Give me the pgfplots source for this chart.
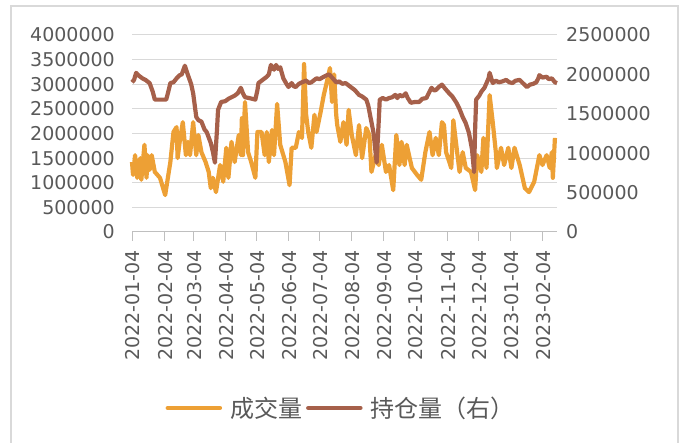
\documentclass[border=0pt]{standalone}
\usepackage{pgfplots}
\pgfplotsset{compat=1.18}
\usepackage{fontspec}
\setmainfont{DejaVu Sans}
\newfontfamily\cjk{Noto Sans CJK SC}
\definecolor{volc}{HTML}{EDA035}
\definecolor{oic}{HTML}{A6604A}
\definecolor{txtc}{HTML}{595959}
\definecolor{gridc}{HTML}{D9D9D9}
\definecolor{axc}{HTML}{BFBFBF}
\begin{document}
\begin{tikzpicture}[x=1pt,y=1pt]
\useasboundingbox (0,0) rectangle (682,443);
\draw[gridc, line width=1.2pt] (11,-2) -- (11,437) -- (678,437) -- (678,-2);
\begin{axis}[
  at={(132pt,211pt)}, anchor=south west,
  scale only axis, width=425pt, height=197pt,
  xmin=0, xmax=410, ymin=0, ymax=4000000,
  axis x line*=bottom, axis y line*=left,
  y axis line style={draw=none},
  x axis line style={draw=axc, line width=1pt},
  xtick={0,31,59,90,120,151,181,212,243,273,304,334,365,396},
  xticklabels={2022-01-04,2022-02-04,2022-03-04,2022-04-04,2022-05-04,2022-06-04,2022-07-04,2022-08-04,2022-09-04,2022-10-04,2022-11-04,2022-12-04,2023-01-04,2023-02-04},
  xtick style={draw=axc, line width=1pt},
  tick align=outside, major tick length=9pt,
  xticklabel style={rotate=90, anchor=east, inner sep=0pt, font=\fontsize{19}{22}\selectfont, text=txtc, xshift=-9pt, yshift=-1pt},
  scaled y ticks=false,
  ytick={0,500000,1000000,1500000,2000000,2500000,3000000,3500000,4000000},
  yticklabels={0,500000,1000000,1500000,2000000,2500000,3000000,3500000,4000000},
  ytick style={draw=none},
  yticklabel style={anchor=east, inner sep=0pt, font=\fontsize{19}{22}\selectfont, text=txtc, xshift=-8pt},
  ymajorgrids, grid style={draw=gridc, line width=1pt},
  clip=false,
]
\addplot[volc, line width=4.2pt, line join=round] coordinates {
(0,1420000)(1,1160000)(3,1560000)(5,1100000)(8,1500000)(9,1060000)(12,1770000)(14,1100000)(15,1560000)(17,1260000)(19,1560000)(22,1220000)(27,1100000)(32,750000)(37,1420000)(40,2030000)(43,2130000)(44,1500000)(46,1830000)(49,2230000)(52,1560000)(54,1830000)(56,1560000)(59,2230000)(62,1560000)(64,1970000)(67,1620000)(71,1420000)(74,1220000)(76,890000)(78,1100000)(81,810000)(85,1360000)(88,1020000)(91,1710000)(93,1100000)(96,1830000)(99,1420000)(103,1970000)(105,1560000)(106,2310000)(107,1560000)(109,2640000)(112,1620000)(115,1420000)(119,1100000)(121,2030000)(125,2030000)(128,1560000)(130,2030000)(132,1420000)(135,2070000)(137,1560000)(140,2600000)(143,1770000)(148,1420000)(152,950000)(154,1710000)(158,1710000)(161,2030000)(164,1910000)(166,3410000)(168,2380000)(170,2030000)(173,1710000)(176,2380000)(178,2030000)(182,2440000)(185,2780000)(188,3050000)(191,3330000)(193,2640000)(195,3200000)(197,2380000)(198,2170000)(201,1830000)(204,2230000)(207,1770000)(209,2480000)(212,1970000)(216,1560000)(219,2170000)(222,1500000)(226,2110000)(229,1970000)(231,1220000)(235,1560000)(238,1360000)(241,1770000)(245,1220000)(248,1360000)(252,850000)(255,1970000)(258,1360000)(260,1830000)(263,1360000)(265,1770000)(270,1300000)(275,1160000)(279,1060000)(283,1620000)(287,2030000)(290,1560000)(293,1910000)(296,1560000)(299,2230000)(301,2170000)(303,1620000)(308,1300000)(310,2270000)(314,1560000)(316,1220000)(319,1620000)(322,1300000)(327,1220000)(331,850000)(333,1560000)(337,1220000)(339,1910000)(342,1300000)(345,2780000)(348,2230000)(351,1620000)(352,1300000)(356,1710000)(359,1360000)(363,1710000)(366,1300000)(369,1710000)(374,1360000)(379,890000)(383,810000)(388,1020000)(393,1560000)(396,1360000)(400,1560000)(403,1300000)(405,1620000)(406,1100000)(408,1910000)
};
\end{axis}
\begin{axis}[
  at={(132pt,211pt)}, anchor=south west,
  scale only axis, width=425pt, height=197pt,
  xmin=0, xmax=410, ymin=0, ymax=2500000,
  axis x line=none, axis y line*=right,
  y axis line style={draw=none},
  scaled y ticks=false,
  ytick={0,500000,1000000,1500000,2000000,2500000},
  yticklabels={0,500000,1000000,1500000,2000000,2500000},
  ytick style={draw=none},
  yticklabel style={anchor=west, inner sep=0pt, font=\fontsize{19}{22}\selectfont, text=txtc, xshift=9pt},
  clip=false,
  legend style={at={(0.492,-0.893)}, anchor=center, draw=none, fill=none,
    font=\cjk\fontsize{24}{26}\selectfont, text=txtc,
    /tikz/every odd column/.append style={column sep=6pt},
    /tikz/every even column/.append style={column sep=2pt},
    nodes={inner sep=2pt}},
  legend columns=2,
  legend image code/.code={\draw[#1, line width=4.5pt, line cap=round] (0pt,0pt) -- (52pt,0pt);},
]
\addlegendimage{volc}
\addlegendentry{成交量}
\addplot[oic, line width=4.2pt, line join=round] coordinates {
(0,1900000)(2,1930000)(4,2020000)(6,1990000)(8,1970000)(10,1950000)(13,1930000)(15,1910000)(17,1890000)(20,1780000)(22,1680000)(28,1680000)(33,1680000)(35,1780000)(37,1890000)(40,1900000)(43,1950000)(46,1990000)(48,2000000)(51,2110000)(52,2070000)(54,1990000)(57,1880000)(59,1760000)(62,1460000)(64,1420000)(67,1400000)(70,1300000)(72,1270000)(74,1200000)(76,1130000)(78,1020000)(80,880000)(82,1300000)(83,1550000)(86,1650000)(90,1660000)(93,1690000)(96,1710000)(99,1730000)(102,1760000)(105,1830000)(107,1760000)(109,1710000)(113,1700000)(116,1690000)(119,1680000)(121,1800000)(122,1890000)(126,1930000)(130,1970000)(132,2000000)(134,2120000)(137,2060000)(139,2120000)(141,2070000)(143,2090000)(146,1950000)(149,1880000)(151,1840000)(154,1890000)(156,1850000)(158,1840000)(161,1880000)(164,1900000)(168,1920000)(171,1890000)(173,1900000)(176,1930000)(178,1950000)(181,1940000)(185,1970000)(188,1990000)(190,2000000)(193,1960000)(197,1900000)(200,1910000)(203,1880000)(206,1890000)(209,1860000)(212,1830000)(215,1800000)(219,1740000)(222,1720000)(226,1680000)(228,1600000)(230,1460000)(233,1260000)(236,880000)(238,1400000)(239,1680000)(242,1700000)(245,1680000)(248,1700000)(251,1710000)(254,1740000)(256,1700000)(258,1740000)(261,1720000)(264,1760000)(266,1700000)(269,1640000)(273,1650000)(277,1650000)(280,1690000)(284,1700000)(287,1780000)(289,1830000)(291,1800000)(293,1800000)(296,1840000)(299,1870000)(302,1820000)(306,1760000)(309,1720000)(313,1640000)(316,1560000)(319,1460000)(322,1380000)(325,1260000)(328,1050000)(330,760000)(331,1300000)(332,1680000)(335,1730000)(337,1780000)(340,1830000)(342,1890000)(344,1950000)(345,2020000)(348,1890000)(351,1920000)(354,1900000)(357,1910000)(361,1930000)(364,1900000)(367,1890000)(370,1920000)(374,1930000)(377,1890000)(381,1840000)(384,1870000)(387,1880000)(390,1900000)(392,1950000)(393,1990000)(396,1960000)(400,1970000)(402,1940000)(405,1950000)(408,1900000)(410,1890000)
};
\addlegendentry{持仓量（右）}
\end{axis}
\end{tikzpicture}
\end{document}
